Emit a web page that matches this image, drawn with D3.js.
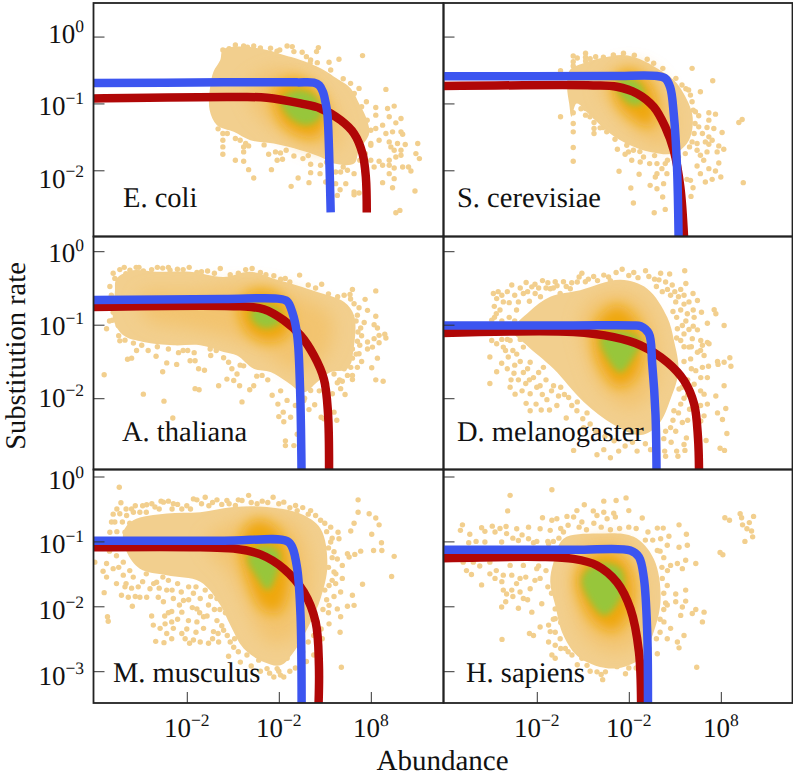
<!DOCTYPE html>
<html><head><meta charset="utf-8">
<script src="https://cdn.jsdelivr.net/npm/d3@7/dist/d3.min.js"></script>
<style>html,body{margin:0;padding:0;background:#fff}svg{display:block}text{font-family:"Liberation Serif",serif;fill:#111;text-rendering:geometricPrecision}</style>
</head><body><div id="chart"></div>
<script>
// All coordinates are [log10 abundance position, log10 substitution rate].
const xTickExponents=[-2,3,8];
const xTickLabels=[["10","−2"],["10","−2"],["10","8"]];
const yTicksTop=[0,-1,-2];
const yTicksBottom=[0,-1,-2,-3];
const yTickLabelsTop=[["10","0"],["10","−1"],["10","−2"]];
const yTickLabelsBottom=[["10","0"],["10","−1"],["10","−2"],["10","−3"]];

const ecoliBlue=[[-7.2,-.695],[0,-.685],[4,-.685],[4.9,-.69],[5.2,-.73],[5.4,-.83],[5.55,-1.0],[5.64,-1.15],[5.73,-1.7],[5.82,-2.63]];
const ecoliRed=[[-7.2,-.925],[.55,-.905],[2.36,-.915],[4.18,-1],[5.27,-1.075],[6.36,-1.25],[7.09,-1.45],[7.55,-1.75],[7.73,-2.1],[7.78,-2.63]];
const ecoliBlob=[[-.18,-.35],[-.04,-.2],[.91,-.15],[2.36,-.2],[3.27,-.275],[4.18,-.35],[5.27,-.475],[6,-.6],[6.91,-.775],[7.36,-1],[7.73,-1.2],[7.91,-1.45],[7.36,-1.7],[7.09,-1.9],[6,-1.9],[5.27,-1.8],[4.18,-1.7],[2.73,-1.6],[1.45,-1.55],[.55,-1.425],[-.36,-1.325],[-.76,-1.1],[-.73,-.75],[-.55,-.525]];
const ecoliMid=[[1.27,-.75],[2.73,-.5],[4.18,-.575],[5.64,-.9],[6.36,-1.3],[6.18,-1.65],[5.09,-1.7],[3.45,-1.5],[1.82,-1.15]];
const ecoliCore=[[2.73,-.8],[3.82,-.625],[5.09,-.8],[5.64,-1.2],[5.09,-1.5],[3.82,-1.45],[2.91,-1.2]];
const ecoliGreen=[[3.09,-.95],[4,-.8],[5,-.9],[5.27,-1.2],[4.55,-1.325],[3.64,-1.225]];
const ecoliPoints=[[-.04,-.2],[.64,-.125],[1.09,-.14],[1.64,-.14],[2.55,-.175],[3.05,-.2],[3.45,-.14],[3.73,-.15],[3.82,-.225],[4.27,-.235],[5.15,-.165],[5.05,-.225],[4.73,-.35],[5.09,-.39],[5.73,-.385],[6.27,-.34],[7.55,-.285],[5.82,-.5],[7.36,-.775],[8.82,-.79],[7.76,-.975],[8.27,-1.06],[8.91,-1.075],[9.27,-1.04],[8.27,-1.175],[9,-1.2],[9.64,-1.225],[9.36,-1.29],[8.64,-1.325],[8.27,-1.375],[8.82,-1.45],[9.64,-1.425],[9.18,-1.425],[9.73,-1.46],[9,-1.575],[9.45,-1.6],[9.87,-1.615],[10.55,-1.6],[8.45,-1.55],[8,-1.625],[9.27,-1.7],[9.64,-1.7],[9.09,-1.65],[9.36,-1.8],[9.64,-1.775],[9,-1.85],[10.45,-1.75],[10.64,-1.825],[8.45,-1.865],[8,-1.85],[8.18,-1.95],[8.64,-1.925],[9,-1.925],[9.27,-1.965],[9.73,-1.95],[10.05,-1.95],[9,-2.05],[9.27,-2.125],[10.18,-2.01],[8.64,-2.185],[9.18,-2.26],[10.4,-2.31],[9.36,-2.635],[9.58,-2.6],[-.04,-1.45],[-.04,-1.55],[-.04,-1.65],[-.04,-1.76],[.64,-1.85],[1.09,-1.865],[1.36,-1.99],[1.64,-2.115],[2.6,-1.99],[.64,-1.525],[1.09,-1.65],[1.36,-1.635],[1.09,-1.725],[2.45,-1.76],[2.82,-1.725],[3.09,-1.74],[2.91,-1.85],[3.2,-1.835],[3.82,-1.785],[4.31,-1.825],[4.73,-1.91],[5.27,-1.925],[4.05,-2.115],[4.73,-2.035],[5.24,-2.05],[3.67,-2.24],[4.64,-2.185],[5.55,-2.175],[6.09,-2.025],[6.36,-2.025],[6.73,-2],[7.09,-2.05],[6.64,-2.2],[6.09,-2.2],[6.33,-2.29],[7.09,-2.325],[7.36,-2.34],[6.18,-2.375],[7.09,-2.365]];
const ecoliEdge=[[6.5,-.63],[6.9,-.7],[7.1,-.85],[7.5,-1.05],[7.8,-1.25],[8,-1.4],[8,-1.6],[7.7,-1.75],[7.4,-1.85],[6.5,-1.95],[5.6,-1.88],[4.6,-1.78],[3.4,-1.7],[2.2,-1.62],[1.2,-1.6],[.2,-1.45],[-.3,-1.38],[.9,-1.55],[.3,-.18],[1.3,-.16],[2,-.17],[2.9,-.22],[4.5,-.3],[4.7,-.4]];

const scerBlue=[[-7.2,-.595],[2,-.59],[4.53,-.59],[4.98,-.625],[5.25,-.76],[5.44,-1.15],[5.62,-1.95],[5.71,-3.1]];
const scerRed=[[-7.2,-.74],[1.07,-.73],[2.35,-.75],[3.44,-.85],[4.35,-1.05],[4.98,-1.35],[5.44,-1.7],[5.8,-2.25],[6.02,-3.1]];
const scerBlob=[[-.2,-.5],[.53,-.4],[1.44,-.325],[2.71,-.275],[3.62,-.34],[4.53,-.475],[5.44,-.65],[5.98,-.85],[6.44,-1.15],[6.44,-1.4],[6.16,-1.6],[5.44,-1.75],[4.16,-1.725],[3.07,-1.625],[1.98,-1.45],[.89,-1.175],[.16,-1],[-.11,-1.2],[-.24,-1],[-.35,-.75]];
const scerMid=[[1.44,-.75],[2.53,-.45],[3.98,-.5],[5.07,-.85],[5.44,-1.35],[4.89,-1.65],[3.62,-1.5],[2.35,-1.15]];
const scerCore=[[2.16,-.7],[2.8,-.5],[3.98,-.65],[4.53,-1.05],[4.16,-1.35],[3.25,-1.25],[2.35,-1]];
const scerGreen=[[2.35,-.675],[3.07,-.625],[3.8,-.775],[3.71,-1],[3.16,-1.025],[2.53,-.875]];
const scerPoints=[[-.02,-.29],[-.02,-.375],[-.02,-.44],[.65,-.25],[.65,-.31],[.65,-.365],[-.71,-.51],[2.71,-.25],[2.16,-.275],[1.62,-.31],[4.35,-.4],[4.85,-.475],[6.44,-.475],[5.56,-.625],[7.56,-.66],[5.89,-.725],[6.25,-.8],[6.89,-.825],[6.35,-.875],[6.44,-.975],[6.62,-1.125],[7.35,-1.14],[7.71,-1.16],[6.8,-1.185],[7.35,-1.25],[9.16,-1.24],[8.98,-1.285],[6.8,-1.35],[7.25,-1.36],[7.62,-1.375],[7,-1.45],[8.07,-1.435],[7.35,-1.5],[7.53,-1.55],[7.16,-1.575],[7.35,-1.61],[6.71,-1.6],[6.44,-1.575],[7.89,-1.635],[8.16,-1.685],[7.8,-1.725],[7.25,-1.725],[6.71,-1.7],[6.89,-1.775],[6.07,-1.75],[7.07,-1.85],[7.89,-1.89],[7.35,-1.975],[6.71,-1.935],[7.71,-2.01],[8,-2.1],[6.89,-2.05],[7.16,-2.175],[7.53,-2.135],[6.35,-2.15],[6.16,-2.135],[6.49,-2.26],[6.38,-2.39],[9.22,-2.185],[-.71,-1.2],[-.02,-1.14],[-.02,-1.3],[-.02,-1.425],[-.02,-1.66],[-.02,-1.865],[.65,-1.075],[.65,-1.175],[.89,-1.2],[1.11,-1.285],[1.11,-1.375],[1.11,-1.45],[1.44,-1.365],[1.8,-1.425],[2.25,-1.535],[2.38,-1.685],[2.89,-1.625],[2.98,-1.725],[2.8,-1.76],[3.25,-1.7],[3.16,-1.85],[2.47,-2.015],[3.8,-1.8],[3.62,-1.875],[4.13,-1.9],[4.53,-1.9],[4.98,-1.9],[4.8,-1.975],[4.53,-2.05],[5.07,-2.05],[3.56,-2.06],[4.44,-2.1],[4.89,-2.2],[4.16,-2.225],[4.53,-2.275],[3.11,-2.265],[4.84,-2.4],[3.25,-2.49],[4.38,-2.635],[4.98,-2.585]];
const scerEdge=[[6.1,-.78],[6.5,-1.1],[6.6,-1.3],[6.55,-1.45],[6.3,-1.65],[5.7,-1.8],[5.1,-1.85],[4.4,-1.78],[3.6,-1.72],[1.6,-1.36],[1.2,-1.2],[.4,-1.08],[.2,-.32],[.9,-.33],[1.2,-.3],[3.3,-.28],[4,-.34]];

const athaBlue=[[-7.2,-.665],[0,-.65],[2.91,-.645],[3.45,-.68],[3.73,-.83],[4,-1.145],[4.15,-1.83],[4.24,-3.1]];
const athaRed=[[-7.2,-.76],[.91,-.75],[2.18,-.79],[3.27,-.94],[4.18,-1.145],[4.91,-1.42],[5.45,-1.74],[5.67,-2.19],[5.73,-3.1]];
const athaBlob=[[-5.82,-.375],[-4.91,-.26],[-3.64,-.28],[-1.82,-.28],[0,-.35],[1.45,-.28],[2.73,-.375],[4,-.465],[5.09,-.555],[6.55,-.69],[7.09,-.875],[7.09,-1.28],[6.73,-1.6],[5.82,-1.645],[5.09,-1.78],[4.36,-1.92],[3.45,-1.78],[2.55,-1.645],[1.64,-1.6],[.73,-1.42],[0,-1.37],[-1.27,-1.28],[-2.73,-1.28],[-4.36,-1.235],[-5.45,-1.145],[-6,-.92],[-5.91,-.555]];
const athaMid=[[-4.55,-.6],[-1.82,-.555],[.91,-.465],[2.91,-.51],[4.36,-.645],[5.82,-.87],[5.82,-1.28],[4.73,-1.6],[3.64,-1.6],[2.18,-1.37],[.55,-1.19],[-1.82,-1.05],[-4.18,-.92]];
const athaCore=[[.82,-.74],[1.64,-.53],[2.91,-.58],[3.64,-.87],[3.45,-1.15],[2.36,-1.24],[1.27,-1.1]];
const athaGreen=[[1.45,-.85],[2,-.74],[3,-.8],[3.09,-.96],[2.36,-1.05],[1.73,-.99]];
const athaPoints=[[-5.64,-.25],[-5.31,-.305],[-5.09,-.26],[-4.75,-.22],[-4.36,-.27],[-3.91,-.25],[-3.31,-.23],[-2.91,-.26],[-2.51,-.245],[-1.87,-.22],[-1.45,-.29],[-.87,-.27],[-.18,-.235],[.36,-.32],[1.55,-.235],[2,-.29],[2.73,-.335],[4.13,-.325],[3.35,-.37],[5.33,-.45],[7,-.52],[8.27,-.54],[6.55,-.6],[6.87,-.59],[7.69,-.655],[7.09,-.715],[7.36,-.77],[7.82,-.805],[8.27,-.885],[7.27,-.87],[7.64,-.97],[8.18,-1],[8.36,-1.045],[7.45,-1.045],[8.76,-1.13],[8.45,-1.145],[8.82,-1.18],[8.18,-1.19],[7.82,-1.235],[7.27,-1.225],[8.45,-1.245],[8.09,-1.305],[7.4,-1.28],[7,-1.33],[7.82,-1.33],[7.36,-1.395],[8.36,-1.455],[7,-1.455],[8.05,-1.585],[7.27,-1.58],[6.91,-1.58],[6.55,-1.6],[7,-1.69],[6.73,-1.69],[8.27,-1.75],[8.67,-1.77],[6.45,-1.77],[7,-1.745],[6,-1.67],[6.18,-1.79],[6.36,-1.87],[6.6,-1.95],[5.91,-1.94],[4.95,-2.09],[4.64,-2.155],[6,-2.19],[5.3,-2.26],[6.15,-2.3],[5.45,-2.28],[4.73,-1.895],[4.36,-2.03],[3.64,-2.26],[3.27,-2.32],[3,-2.25],[3.24,-2.19],[3.45,-2.03],[2.95,-2.08],[2.64,-1.96],[3.36,-2.58],[3.36,-2.645],[3.82,-2.645],[4,-2.49],[1,-2.05],[1.64,-1.83],[1.42,-1.885],[.87,-1.83],[.55,-1.76],[.73,-1.67],[.18,-1.74],[-.27,-1.83],[.45,-1.6],[.27,-1.51],[1.09,-1.56],[2.09,-1.69],[-1.04,-1.62],[-1.36,-1.6],[-1.55,-1.87],[-1.33,-1.885],[-1.82,-1.49],[-1.55,-1.49],[-2.55,-1.54],[-2.45,-1.38],[-1.95,-1.35],[-3.09,-1.52],[-3.31,-1.64],[-3.67,-1.43],[-5,-1.455],[-5.22,-1.47],[-6.49,-1.68],[-4.36,-1.945],[-3.24,-2.04],[-2.76,-2.27],[-4.73,-1.35],[-4.45,-1.28],[-5.36,-1.21],[-5.64,-1.22],[-5.09,-1.11],[-5.73,-1.01],[-6.36,-1.055],[-6.04,-.94],[-6,-.83],[-6.18,-.48],[-5.73,-.52],[-5.91,-.37],[-.73,-1.33],[-.4,-1.35]];
const athaEdge=[[6.9,-.65],[7.2,-.95],[7.3,-1.1],[7.5,-1.15],[7.2,-1.4],[7.5,-1.5],[6.8,-1.5],[6.3,-1.75],[5.6,-1.8],[5.2,-1.9],[4.4,-2],[3.9,-2.1],[3.1,-1.9],[2.4,-1.75],[1.8,-1.7],[.9,-1.55],[0,-1.45],[-.7,-1.42],[-1.6,-1.38],[-2.2,-1.35],[-3,-1.33],[-3.6,-1.3],[-4.1,-1.35],[-4.9,-1.25],[-5.7,-1.15],[-6.2,-.95],[-6.2,-.7],[-6.1,-.6],[-6,-.3],[-5.4,-.22],[-4.6,-.22],[-3.6,-.22],[-3,-.22],[-2.2,-.25],[-1.2,-.28],[-.5,-.3],[.8,-.3],[1.2,-.25],[2.3,-.32],[3.1,-.38],[3.6,-.42],[4.6,-.46],[5,-.5],[5.7,-.58],[6.2,-.62]];

const dmelBlue=[[-7.2,-1.01],[0,-1.01],[3.2,-1.01],[3.64,-1.02],[4.09,-1.12],[4.27,-1.53],[4.45,-2.22],[4.51,-3.1]];
const dmelRed=[[-7.2,-1.115],[0,-1.1],[2.18,-1.17],[3.64,-1.28],[5.09,-1.51],[6,-1.76],[6.55,-2.08],[6.76,-2.54],[6.82,-3.1]];
const dmelBlob=[[-2.4,-.82],[-1.27,-.62],[.36,-.53],[2.55,-.39],[4,-.51],[5.09,-.9],[5.45,-1.21],[5.7,-1.63],[5.3,-1.99],[4.6,-2.36],[3.64,-2.5],[2.18,-2.36],[.55,-2.05],[-1.09,-1.6],[-2.55,-1.28],[-3.3,-1.08]];
const dmelMid=[[.36,-.94],[1.09,-.67],[2.73,-.58],[4,-.8],[4.55,-1.26],[4.36,-1.85],[3.09,-2.13],[1.45,-1.85],[.73,-1.44]];
const dmelCore=[[1.27,-.94],[2.36,-.735],[3.45,-.94],[3.82,-1.4],[3.27,-1.76],[2.36,-1.85],[1.45,-1.58],[1.09,-1.26]];
const dmelGreen=[[1.45,-1.19],[2.36,-1.08],[3.64,-1.21],[3.27,-1.44],[2.55,-1.65],[1.91,-1.49]];
const dmelPoints=[[-4.36,-.575],[-4.18,-.645],[-4.31,-.75],[-4,-.8],[-3.82,-.69],[-3.36,-.46],[-3,-.69],[-2.58,-.425],[-2.27,-.485],[-2.73,-.575],[-2.09,-.575],[-1.69,-.4],[-1.27,-.51],[-1,-.415],[-.55,-.415],[-.73,-.575],[-.18,-.51],[.45,-.3],[.64,-.415],[1.09,-.345],[1.64,-.325],[2.31,-.29],[2.64,-.245],[3.27,-.29],[3.91,-.265],[4.09,-.345],[4.73,-.3],[5.22,-.31],[6.04,-.265],[6.1,-.44],[5.82,-.52],[4.64,-.39],[4.82,-.55],[5.36,-.46],[5.27,-.6],[6,-.6],[6.49,-.575],[6.73,-.67],[6.27,-.69],[5.55,-.69],[5.82,-.8],[6.18,-.85],[6.95,-.83],[7.64,-.795],[7.73,-.85],[6.55,-.9],[7.27,-.98],[8.18,-1.01],[5.91,-1.01],[5.64,-1.055],[6.27,-1.065],[6.73,-1.07],[6,-1.125],[5.82,-1.215],[6.45,-1.19],[6.91,-1.215],[7.27,-1.24],[7,-1.28],[7.36,-1.26],[6.27,-1.305],[6.73,-1.375],[7.09,-1.42],[6.36,-1.465],[7.82,-1.5],[8.49,-1.45],[8.18,-1.51],[7.85,-1.54],[8.55,-1.565],[7.33,-1.565],[7,-1.58],[6.64,-1.625],[7.27,-1.72],[6.91,-1.72],[5.82,-1.72],[8.18,-1.83],[6.55,-1.81],[7.09,-1.945],[7.73,-1.97],[5.73,-1.875],[7.27,-2.08],[8.27,-2.14],[7.82,-2.2],[8.09,-2.29],[7.09,-2.24],[6.91,-2.31],[5.82,-2.08],[5.45,-2.17],[5.27,-2.4],[5.55,-2.45],[5.91,-2.33],[6.13,-2.54],[6,-2.63],[8.33,-2.48],[7.2,-2.575],[7.96,-2.68],[8.2,-2.71],[5.6,-2.72],[6.05,-2.71],[5.67,-2.79],[4.95,-2.72],[4.18,-2.7],[5,-2.79],[3.45,-2.72],[2.45,-2.72],[1.64,-2.7],[1.27,-2.77],[2,-2.81],[0,-2.71],[-.4,-2.27],[.55,-2.4],[.18,-2.17],[.73,-2.2],[-.91,-2.1],[-1.31,-2.16],[-1.76,-2.16],[-2.36,-2.17],[-2.04,-2.08],[-2.58,-2.07],[-1.45,-2.02],[-.82,-1.97],[-2.36,-1.94],[-2.8,-1.9],[-3.18,-1.945],[-3.45,-1.85],[-4.55,-1.8],[-4.18,-1.64],[-3.91,-1.525],[-4.55,-1.44],[-3.24,-1.66],[-2.73,-1.65],[-2.18,-1.72],[-1.82,-1.83],[-1.09,-1.83],[-.27,-1.99],[-3.55,-1.44],[-3.82,-1.305],[-3.09,-1.4],[-4.18,-1.26],[-4.45,-1.215],[-2.73,-1.305],[-2.36,-1.51],[-1.64,-1.58],[-.82,-1.535],[-3.45,-1.215],[-4.09,-1.08],[-4.45,-.94]];
const dmelEdge=[[-4.1,-.55],[-3.9,-.6],[-3.6,-.55],[-3.5,-.7],[-3.2,-.6],[-3.1,-.8],[-2.9,-.5],[-2.5,-.55],[-2.4,-.68],[-2.1,-.45],[-1.9,-.5],[-1.8,-.62],[-1.5,-.5],[-1.4,-.43],[-1.1,-.5],[-.9,-.47],[-.4,-.48],[-.1,-.43],[.2,-.42],[.3,-.35],[.8,-.38],[1.3,-.4],[1.9,-.35],[2.0,-.4],[3,-.33],[3.5,-.36],[4.4,-.38],[4.5,-.48],[5,-.42],[5.1,-.52],[5.5,-.55],[5.7,-.62],[6,-.72],[6.1,-.95],[5.4,-.82],[5.6,-.9],[6.5,-1.02],[6.5,-.8],[5.6,-1.18],[6,-1.3],[6.4,-1.3],[6.9,-1.35],[6,-1.5],[6.4,-1.6],[5.9,-1.85],[6.2,-1.75],[6.2,-1.95],[6.5,-2],[6,-2],[6.9,-1.9],[6.3,-2.15],[6.7,-2.2],[6.9,-2.1],[6.2,-2.3],[5.7,-2.2],[5.4,-2.3],[5,-2.45],[5.3,-2.6],[4.9,-2.55],[4.5,-2.55],[3.9,-2.62],[3.2,-2.6],[2.8,-2.65],[2.2,-2.58],[1.7,-2.52],[1.2,-2.45],[.9,-2.35],[.5,-2.28],[.2,-2.05],[-.1,-2.1],[-.5,-1.95],[-.7,-1.85],[-1.2,-1.9],[-1.5,-1.75],[-1.7,-1.95],[-2,-1.85],[-1.9,-1.65],[-2.4,-1.75],[-2.6,-1.8],[-2.5,-1.6],[-3,-1.75],[-2.9,-1.5],[-3.2,-1.55],[-3.4,-1.75],[-3.6,-1.6],[-3.7,-1.35],[-3.3,-1.35],[-3.9,-1.2],[-3.6,-1.2],[-3.9,-.95],[-4.2,-1.05],[-4.3,-.9],[-3.5,-.9],[-3.2,-.95],[-2.9,-1],[-2.9,-1.2],[-4.2,-.85]];

const mmusBlue=[[-7.2,-.99],[0,-.99],[3.45,-.995],[3.73,-1.09],[4,-1.42],[4.18,-2.14],[4.24,-3.6]];
const mmusRed=[[-7.2,-1.09],[-1.27,-1.09],[.55,-1.11],[2,-1.2],[3.27,-1.42],[4.36,-1.78],[5,-2.24],[5.18,-2.91],[5.15,-3.6]];
const mmusBlob=[[-4.91,-.675],[-3.09,-.57],[-1.27,-.55],[.55,-.47],[2.36,-.47],[4.18,-.575],[5.27,-.805],[5.64,-1.37],[5.27,-1.88],[4.73,-2.24],[3.82,-2.7],[3.09,-2.91],[2.18,-2.86],[1.09,-2.65],[.36,-2.29],[-.18,-1.98],[-1.27,-1.62],[-3.09,-1.52],[-4.55,-1.42],[-5.27,-1.16],[-5.45,-.86]];
const mmusMid=[[-1,-1],[.9,-.68],[2.4,-.62],[3.9,-.75],[4.7,-1.3],[4.6,-1.95],[3.7,-2.5],[2.4,-2.55],[1.4,-2.1],[.4,-1.5]];
const mmusCore=[[.9,-.95],[1.7,-.67],[2.7,-.75],[3.5,-1.1],[3.6,-1.7],[3,-2.1],[2.1,-2.05],[1.3,-1.6]];
const mmusGreen=[[1.3,-1.25],[2,-1.07],[3,-1.15],[2.9,-1.5],[2.4,-1.75],[1.8,-1.55]];
const mmusPoints=[[-5.67,-.165],[-5.58,-.405],[-5.91,-.7],[-5.64,-.575],[-5.27,-.6],[-5,-.5],[-4.55,-.55],[-4.18,-.435],[-3.73,-.47],[-3.27,-.395],[-2.73,-.42],[-2.27,-.5],[-1.64,-.345],[-1.45,-.36],[-1,-.32],[-.36,-.36],[.18,-.37],[.64,-.445],[1.36,-.29],[1,-.37],[1.82,-.42],[2.69,-.32],[3.27,-.395],[3.91,-.445],[4.73,-.525],[4,-.525],[5.27,-.675],[5.82,-.78],[7.31,-.36],[7.31,-.55],[7.91,-.575],[8.27,-.64],[8.45,-.745],[7.09,-.72],[6.91,-.84],[8.05,-.89],[8.58,-1.02],[8.15,-1.14],[8.6,-1.14],[9.27,-1.23],[9.13,-1.54],[7.45,-1.15],[7.13,-1.2],[6.73,-1.19],[6.82,-1.24],[6.22,-.86],[6.27,-.96],[7.55,-1.66],[6.45,-1.37],[6.18,-1.27],[6,-1.47],[6.45,-1.57],[6.09,-1.65],[6.36,-1.78],[7,-1.83],[6.73,-2],[7.09,-1.985],[6.18,-2.04],[5.73,-1.985],[6.36,-2.16],[5.73,-2.27],[6.33,-2.4],[5.36,-2.5],[6.4,-2.94],[5.73,-1.68],[5.82,-1.01],[6,-1.16],[3.45,-2.8],[3.09,-3.06],[3.27,-3.09],[2.73,-3.09],[2.91,-2.96],[2.36,-2.96],[1.91,-2.83],[1.27,-2.75],[.91,-2.86],[.55,-2.63],[.27,-2.77],[.36,-2.55],[-.27,-2.55],[-.82,-2.57],[-1.27,-2.55],[-1.64,-2.52],[-1.85,-2.57],[-2.09,-2.5],[-2.27,-2.42],[-2.82,-2.5],[-3.24,-2.56],[-3.69,-2.54],[-3.45,-2.34],[-3.09,-2.42],[-2.73,-2.34],[-1.09,-2.34],[-.55,-2.39],[0,-2.37],[-1.45,-2.24],[-1.91,-2.22],[-1.09,-2.16],[-.36,-2.22],[-2.82,-2.24],[-3.18,-2.27],[-3.82,-2.29],[-3.91,-2.15],[-2.82,-2.08],[-2.27,-2.09],[-1.45,-2.04],[-.82,-1.98],[-3.27,-1.93],[-2.73,-1.88],[-2.18,-1.91],[-1.64,-1.8],[-1.27,-1.88],[-.36,-1.88],[-3.55,-1.86],[-4.18,-1.86],[-4.55,-1.86],[-4.96,-2],[-5.55,-1.83],[-5.18,-1.86],[-5.36,-1.7],[-5.82,-1.65],[-6.36,-1.55],[-6.49,-1.79],[-6.31,-2.16],[-6.27,-2.23],[-6.55,-1.46],[-6.36,-1.34],[-6,-1.42],[-5.45,-1.52],[-4.91,-1.55],[-4.64,-1.7],[-4,-1.73],[-3.64,-1.63],[-3.09,-1.75],[-7,-1.32],[-5.82,-1.22],[-5.45,-1.32],[-6.09,-.7],[-6.18,-.86],[-6.64,-.985],[-5.36,-.86]];
const mmusEdge=[[-6,-.58],[-5.8,-.85],[-5.5,-.7],[-5.3,-.5],[-5.1,-.72],[-5.8,-.5],[-4.9,-.55],[-4.8,-.45],[-4.4,-.45],[-4.2,-.55],[-3.9,-.42],[-3.5,-.5],[-3.4,-.38],[-3,-.38],[-2.8,-.5],[-2.5,-.43],[-2,-.45],[-1.8,-.5],[-1.2,-.42],[-.8,-.45],[-.6,-.4],[-.1,-.43],[.3,-.42],[.8,-.36],[1.5,-.4],[2.1,-.38],[2.4,-.4],[3,-.42],[3.6,-.48],[4.3,-.48],[4.6,-.58],[5,-.6],[5.5,-.72],[5.6,-.85],[5.9,-.95],[5.7,-1.1],[5.9,-1.25],[5.7,-1.4],[6.1,-1.5],[5.9,-1.6],[5.5,-1.75],[6,-1.85],[5.6,-1.9],[5.4,-2.05],[5.7,-2.1],[5.1,-2.25],[5.3,-2.35],[4.9,-2.45],[4.6,-2.55],[4.3,-2.7],[4.5,-2.85],[4.9,-2.75],[3.9,-2.95],[3.6,-3],[-6.2,-1.15],[-6,-1.1],[-5.7,-1.4],[-5.6,-1.1],[-5.3,-1.65],[-5.1,-1.45],[-5,-1.72],[-4.8,-1.85],[-4.4,-1.62],[-4.2,-1.5],[-3.8,-1.65],[-3.5,-1.72],[-3.3,-1.55],[-3,-1.6],[-2.8,-1.75],[-2.5,-1.65],[-2.3,-1.78],[-1.9,-1.7],[-1.5,-1.7],[-1,-1.75],[-.7,-1.85],[-.2,-2.05],[.1,-2.1],[-.1,-2.3],[.2,-2.45],[.6,-2.5],[.8,-2.7],[-.5,-2.05],[-.9,-2.15],[-1.3,-2.1],[-1.7,-2.02],[-1.9,-1.9],[-2.4,-1.98],[-2.5,-2.2],[-3,-2.1],[-3.2,-2.15],[-.6,-2.5],[-1.5,-2.4],[-2,-2.35],[-.3,-2.42],[1.5,-2.92],[2,-3],[2.5,-3.03],[3,-3]];

const hsapBlue=[[-7.2,-1.13],[0,-1.13],[3.09,-1.14],[3.55,-1.24],[3.82,-1.57],[4,-2.39],[4.04,-3.6]];
const hsapRed=[[-7.2,-1.26],[-1.82,-1.24],[0,-1.27],[1.27,-1.37],[2.36,-1.63],[3.09,-2.04],[3.55,-2.7],[3.67,-3.6]];
const hsapBlob=[[-1.09,-1.32],[-.55,-.96],[1.27,-.88],[3.27,-.93],[4.36,-1.27],[4.73,-1.88],[4.36,-2.39],[3.64,-2.8],[2.18,-2.96],[.36,-2.8],[-.55,-2.45],[-1,-1.98],[-1.27,-1.62]];
const hsapMid=[[0,-1.32],[.73,-1.04],[2.36,-.98],[3.45,-1.27],[3.82,-1.98],[3.45,-2.55],[2.18,-2.7],[.73,-2.5],[0,-2.04]];
const hsapCore=[[.18,-1.52],[.91,-1.22],[2.36,-1.19],[3.18,-1.52],[3.09,-2.09],[2.18,-2.39],[1.09,-2.24],[.36,-1.88]];
const hsapGreen=[[.45,-1.57],[1.27,-1.34],[2.55,-1.42],[2.73,-1.73],[2.18,-2.04],[1.64,-2.14],[.91,-1.93]];
const hsapPoints=[[-1.18,-.205],[-3.45,-.29],[-3.58,-.53],[1.64,-.38],[2.31,-.37],[2.85,-.33],[.58,-.435],[3,-.525],[.18,-.525],[1.07,-.53],[1.64,-.55],[2.18,-.565],[-1.69,-.635],[-.91,-.65],[-1.18,-.675],[-.36,-.615],[0,-.625],[.45,-.7],[1.27,-.6],[1.82,-.65],[2.27,-.625],[3.73,-.64],[4.55,-.795],[4.87,-.795],[5.73,-.745],[4.04,-.855],[-6.04,-.745],[-6.15,-.83],[-5.64,-.89],[-5,-.79],[-4.82,-.845],[-4.42,-.765],[-4.27,-.855],[-4.82,-1.01],[-3.67,-.77],[-3.64,-.88],[-3.09,-.805],[-2.45,-.78],[-1.82,-.805],[-3,-.985],[-3.91,-1.01],[-2.45,-.96],[-1.27,-.83],[-.55,-.855],[-2.18,-1.02],[-1.36,-1.035],[4.73,-.96],[5.18,-.92],[6.13,-.89],[6.18,-1.06],[5.73,-1.09],[5.09,-1.06],[4.55,-1.14],[6.09,-1.29],[6.64,-1.34],[5.64,-1.34],[5.27,-1.37],[5.91,-1.42],[4.82,-1.57],[5.09,-1.68],[6.09,-1.75],[5.55,-1.81],[6.09,-1.92],[5.55,-1.93],[5.09,-1.98],[6.64,-2.05],[7.09,-2.09],[6.45,-2.11],[7,-2.24],[5.91,-2.01],[5.82,-2.14],[4.91,-2.24],[5.27,-2.34],[6,-2.45],[5.64,-2.55],[5.73,-2.64],[5.09,-2.5],[4.55,-2.73],[6.69,-2.94],[8.22,-.635],[8.47,-.675],[9.05,-.575],[9.13,-.635],[9.78,-.615],[9.18,-.745],[9.55,-.71],[9.42,-.805],[9.67,-.84],[9.73,-.93],[9.31,-1],[7.96,-1.17],[8.11,-1.205],[-5.82,-1.45],[-5.55,-1.51],[-5,-1.67],[-4.55,-1.5],[-4.27,-1.57],[-3.82,-1.52],[-3.36,-1.52],[-2.91,-1.57],[-3.82,-1.75],[-3.64,-1.81],[-3.36,-1.75],[-2.91,-1.78],[-2.36,-1.73],[-1.82,-1.57],[-3.91,-2.01],[-3.69,-1.93],[-3,-2.03],[-2.73,-1.88],[-2.27,-2.09],[-1.73,-1.96],[-1,-2.04],[-1,-2.19],[-3.89,-2.51],[-2.4,-2.42],[-2.18,-2.45],[-1.82,-2.32],[-1.36,-2.29],[-1.27,-2.39],[-1.36,-2.55],[-1,-2.6],[-.73,-2.5],[-1.18,-2.75],[-1,-2.8],[-.45,-2.65],[-.09,-2.75],[1.27,-3.01],[1.58,-3.13],[1.73,-3.01],[2.36,-2.93],[2.82,-3.04],[.73,-2.91],[.45,-2.8],[-4.55,-1.32],[-3.45,-1.37],[-5.45,-1.32],[-2.73,-1.37],[-2,-1.42]];
const hsapEdge=[[-.7,-.8],[-.3,-.75],[.3,-.78],[.7,-.82],[1.1,-.72],[1.5,-.78],[2,-.82],[2.5,-.8],[3,-.78],[3.4,-.8],[3.9,-.98],[4.3,-.98],[4.7,-1.15],[4.9,-1.25],[4.8,-1.4],[5.1,-1.45],[4.9,-1.8],[5,-1.95],[4.9,-2.05],[4.7,-2.2],[4.7,-2.4],[4.5,-2.5],[4.1,-2.65],[3.9,-2.75],[3.4,-2.95],[3,-2.95],[1.5,-3.05],[.9,-3],[.2,-2.9],[-.3,-2.7],[-.7,-2.65],[-1,-2.4],[-.7,-2.25],[-1.1,-2.2],[-1.2,-1.8],[-1.4,-1.7],[-1.5,-1.45],[-1.9,-1.38],[-.9,-1.15],[-1.1,-1],[-1.4,-1],[-.8,-.95],[-2,-1],[-2.8,-.9],[-3.3,-.95],[-4,-.8],[-5.3,-1],[-5.7,-1.02],[-6,-1.32],[-5.1,-1.38],[-4.2,-1.45],[-3.9,-1.62],[-3.1,-1.65],[-2.6,-1.55],[-2.1,-1.6],[-3.3,-1.85],[-2.5,-1.9]];

const panels=[
 {name:"E. coli",col:0,row:0,lx:123,ly:207,points:ecoliPoints.concat(ecoliEdge),blob:ecoliBlob,mid:ecoliMid,core:ecoliCore,green:ecoliGreen,blue:ecoliBlue,red:ecoliRed},
 {name:"S. cerevisiae",col:1,row:0,lx:457,ly:207,points:scerPoints.concat(scerEdge),blob:scerBlob,mid:scerMid,core:scerCore,green:scerGreen,blue:scerBlue,red:scerRed},
 {name:"A. thaliana",col:0,row:1,lx:122,ly:441,points:athaPoints.concat(athaEdge),blob:athaBlob,mid:athaMid,core:athaCore,green:athaGreen,blue:athaBlue,red:athaRed},
 {name:"D. melanogaster",col:1,row:1,lx:457,ly:441,points:dmelPoints.concat(dmelEdge),blob:dmelBlob,mid:dmelMid,core:dmelCore,green:dmelGreen,blue:dmelBlue,red:dmelRed},
 {name:"M. musculus",col:0,row:2,lx:113,ly:682,points:mmusPoints.concat(mmusEdge),blob:mmusBlob,mid:mmusMid,core:mmusCore,green:mmusGreen,blue:mmusBlue,red:mmusRed},
 {name:"H. sapiens",col:1,row:2,lx:466,ly:682,points:hsapPoints.concat(hsapEdge),blob:hsapBlob,mid:hsapMid,core:hsapCore,green:hsapGreen,blue:hsapBlue,red:hsapRed}
];

// Layout
const colX=[93.5,443.5], colW=350;
const rows=[
 {top:3,bottom:236.5,yTop:.502,yBottom:-2.99,ticks:yTicksTop,labels:yTickLabelsTop,base:[42.5,115,187.5]},
 {top:236.5,bottom:469.5,yTop:.2,yBottom:-2.97,ticks:yTicksTop,labels:yTickLabelsTop,base:[262,335,407]},
 {top:469.5,bottom:703,yTop:.108,yBottom:-3.49,ticks:yTicksBottom,labels:yTickLabelsBottom,base:[489,553,619,685]}
];
const W=793,H=780;
const svg=d3.select("#chart").append("svg").attr("width",W).attr("height",H);
const defs=svg.append("defs");
[["b1",9],["b2",6.5],["b3",3]].forEach(([id,s])=>{
  defs.append("filter").attr("id",id).attr("x","-60%").attr("y","-60%").attr("width","220%").attr("height","220%")
   .append("feGaussianBlur").attr("stdDeviation",s);
});
defs.append("filter").attr("id","b0").append("feGaussianBlur").attr("stdDeviation",.7);

const paleColor="#f2cf8e", midColor="#f3bf62", coreColor="#efa710", greenColor="#97c63a";
const blueColor="#3c55f0", redColor="#b00707";

panels.forEach((p,i)=>{
  const r=rows[p.row], x0=colX[p.col];
  const xs=d3.scaleLog().domain([Math.pow(10,-7.07),Math.pow(10,11.95)]).range([x0,x0+colW]);
  const ys=d3.scaleLog().domain([Math.pow(10,r.yBottom),Math.pow(10,r.yTop)]).range([r.bottom,r.top]);
  const X=d=>xs(Math.pow(10,d[0])), Y=d=>ys(Math.pow(10,d[1]));
  const clipId="clip"+i, right=Math.min(x0+colW,792.5);
  defs.append("clipPath").attr("id",clipId).append("rect")
    .attr("x",x0).attr("y",r.top).attr("width",right-x0).attr("height",r.bottom-r.top);
  const g=svg.append("g");
  const plot=g.append("g").attr("clip-path",`url(#${clipId})`);
  const closed=d3.line().x(X).y(Y).curve(d3.curveCatmullRomClosed.alpha(.5));
  const open=d3.line().x(X).y(Y).curve(d3.curveCatmullRom.alpha(.5));
  plot.append("g").selectAll("circle").data(p.points).join("circle")
    .attr("cx",X).attr("cy",Y).attr("r",2.7).attr("fill",paleColor);
  plot.append("path").attr("d",closed(p.blob)).attr("fill",paleColor).attr("filter","url(#b0)");
  plot.append("path").attr("d",closed(p.mid)).attr("fill",midColor).attr("filter","url(#b1)").attr("opacity",.7);
  plot.append("path").attr("d",closed(p.core)).attr("fill",coreColor).attr("filter","url(#b2)");
  plot.append("path").attr("d",closed(p.green)).attr("fill",greenColor).attr("filter","url(#b3)");
  plot.append("path").attr("d",open(p.red)).attr("fill","none").attr("stroke",redColor).attr("stroke-width",8.5);
  plot.append("path").attr("d",open(p.blue)).attr("fill","none").attr("stroke",blueColor).attr("stroke-width",8.5);

  // y axis
  const yAxis=g.append("g").attr("transform",`translate(${x0},0)`)
    .call(d3.axisRight(ys).tickValues(r.ticks.map(t=>Math.pow(10,t))).tickSize(11).tickFormat(""));
  yAxis.select(".domain").remove();
  yAxis.selectAll("line").attr("stroke","#333").attr("stroke-width",1);
  if(p.col===0){
    r.labels.forEach((l,k)=>{
      const t=svg.append("text").attr("x",84).attr("y",r.base[k]).attr("text-anchor","end").attr("font-size",27);
      t.append("tspan").text(l[0]);
      t.append("tspan").attr("dy",-11).attr("font-size",17.5).text(l[1]);
    });
  }
  // x axis
  if(p.row===2){
    const xAxis=g.append("g").attr("transform",`translate(0,${r.bottom})`)
      .call(d3.axisTop(xs).tickValues(xTickExponents.map(t=>Math.pow(10,t))).tickSize(11).tickFormat(""));
    xAxis.select(".domain").remove();
    xAxis.selectAll("line").attr("stroke","#333").attr("stroke-width",1);
    xTickExponents.forEach((e,k)=>{
      const t=svg.append("text").attr("x",xs(Math.pow(10,e))).attr("y",737).attr("text-anchor","middle").attr("font-size",27);
      t.append("tspan").text(xTickLabels[k][0]);
      t.append("tspan").attr("dy",-11).attr("font-size",17.5).text(xTickLabels[k][1]);
    });
  }
  g.append("text").attr("x",p.lx).attr("y",p.ly).attr("font-size",28.5).text(p.name);
  g.append("rect").attr("x",x0).attr("y",r.top).attr("width",right-x0).attr("height",r.bottom-r.top)
    .attr("fill","none").attr("stroke","#222").attr("stroke-width",1.8);
});
svg.append("text").attr("x",442.5).attr("y",770).attr("text-anchor","middle").attr("font-size",29).text("Abundance");
svg.append("text").attr("transform","translate(25,356) rotate(-90)").attr("text-anchor","middle").attr("font-size",28.5).text("Substitution rate");
</script></body></html>
